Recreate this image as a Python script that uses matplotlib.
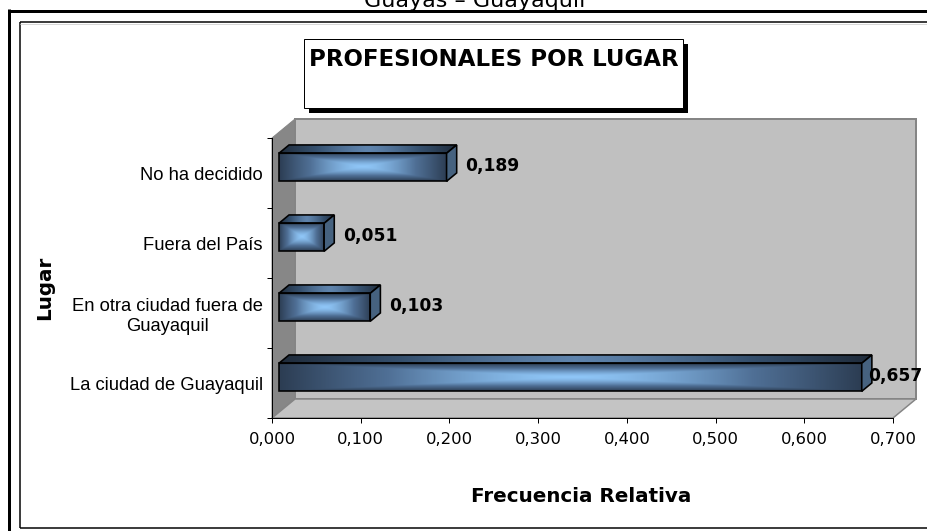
import matplotlib
matplotlib.use('Agg')
import matplotlib.pyplot as plt
import numpy as np
from matplotlib.patches import Polygon, Rectangle
from matplotlib.colors import LinearSegmentedColormap

# ---------------- data ----------------
categories = ["La ciudad de Guayaquil", "En otra ciudad fuera de\nGuayaquil",
              "Fuera del País", "No ha decidido"]
values = [0.657, 0.103, 0.051, 0.189]
xticks = [0.0, 0.1, 0.2, 0.3, 0.4, 0.5, 0.6, 0.7]
chart_title = "PROFESIONALES POR LUGAR"
page_header = "Guayas – Guayaquil"
x_title = "Frecuencia Relativa"
y_title = "Lugar"


def fmt(v):
    return f"{v:.3f}".replace('.', ',')


W, H = 928, 531
fig = plt.figure(figsize=(W / 100, H / 100), dpi=100)
fig.patch.set_facecolor('white')

# background axes in pixel coordinates (page frame, title box, axis titles)
bg = fig.add_axes([0, 0, 1, 1])
bg.set_xlim(0, W)
bg.set_ylim(H, 0)
bg.axis('off')
bg.set_zorder(0)

px = 0.72  # points per pixel
bg.plot([8, W], [10.5, 10.5], color='black', lw=3 * px, solid_capstyle='butt')
bg.plot([9, 9], [9, H], color='black', lw=3 * px, solid_capstyle='butt')
bg.plot([20, W], [22, 22], color='black', lw=1.5 * px, solid_capstyle='butt')
bg.plot([20, 20], [22, 528], color='black', lw=1.5 * px, solid_capstyle='butt')
bg.plot([20, W], [528, 528], color='black', lw=1.5 * px, solid_capstyle='butt')
bg.plot([20, W], [23.5, 23.5], color='#d8d8d8', lw=1 * px, solid_capstyle='butt')

bg.text(475, 7, page_header, ha='center', va='baseline', fontsize=16,
        family='DejaVu Sans', color='black')

# title box with shadow
bg.add_patch(Rectangle((309, 44), 379, 69, facecolor='black', edgecolor='none'))
bg.add_patch(Rectangle((304, 39), 379, 69, facecolor='white', edgecolor='black', lw=1 * px))
bg.text(493.5, 60, chart_title, ha='center', va='center', fontsize=16.5,
        fontweight='bold', family='DejaVu Sans')

bg.text(581, 497, x_title, ha='center', va='center', fontsize=14.3,
        fontweight='bold', family='DejaVu Sans')
bg.text(45, 288, y_title, ha='center', va='center', fontsize=14.3, rotation=90,
        fontweight='bold', family='DejaVu Sans')

# ---------------- main axes ----------------
ax = fig.add_axes([272 / W, 1 - 418 / H, 621 / W, 280 / H])
ax.set_zorder(1)
ax.patch.set_visible(False)
XMAX = xticks[-1]
ax.set_xlim(0, XMAX)
ax.set_ylim(-0.5, len(categories) - 0.5)
DX = 23 / 621 * XMAX
DY = 19 / 280 * len(categories)
Y0, Y1 = -0.5, len(categories) - 0.5

wall_edge = '#858585'
# back wall
ax.add_patch(Polygon([(DX, Y0 + DY), (XMAX + DX, Y0 + DY), (XMAX + DX, Y1 + DY), (DX, Y1 + DY)],
                     closed=True, facecolor='#c0c0c0', edgecolor=wall_edge, lw=2 * px,
                     clip_on=False, zorder=0.5))
# side wall
ax.add_patch(Polygon([(0, Y0), (0, Y1), (DX, Y1 + DY), (DX, Y0 + DY)],
                     closed=True, facecolor='#878787', edgecolor=wall_edge, lw=1 * px,
                     clip_on=False, zorder=0.6))
# floor
ax.add_patch(Polygon([(0, Y0), (XMAX, Y0), (XMAX + DX, Y0 + DY), (DX, Y0 + DY)],
                     closed=True, facecolor='#c4c4c4', edgecolor=wall_edge, lw=1.5 * px,
                     clip_on=False, zorder=0.7))

# gradients
front_cmap = LinearSegmentedColormap.from_list('front', ['#2c3d53', '#4f6f95', '#8fc6f7'])
top_cmap = LinearSegmentedColormap.from_list('top', ['#1f2b3a', '#35506e', '#5f84ad'])
u = np.linspace(0, 1, 300)
v = np.linspace(0, 1, 60)
U, V = np.meshgrid(u, v)
T = np.maximum(np.abs(2 * U - 1), np.abs(2 * V - 1))
front_img = 1 - T ** 1.5
top_img = 1 - np.abs(2 * U - 1) ** 1.3

F0, F1 = 0.3, 0.74
HB = 0.2
edge_lw = 1.6 * px

for i, val in enumerate(values):
    x0f, x1f = F0 * DX, val + F0 * DX
    yb, yt = i - HB + F0 * DY, i + HB + F0 * DY
    # front face
    front = Polygon([(x0f, yb), (x1f, yb), (x1f, yt), (x0f, yt)], closed=True,
                    facecolor='none', edgecolor='black', lw=edge_lw, zorder=4, clip_on=False)
    ax.add_patch(front)
    im = ax.imshow(front_img, cmap=front_cmap, extent=[x0f, x1f, yb, yt], origin='lower',
                   aspect='auto', zorder=3, interpolation='bilinear', vmin=0, vmax=1)
    im.set_clip_path(front)
    # top face
    top_pts = [(x0f, yt), (x1f, yt), (val + F1 * DX, i + HB + F1 * DY), (F1 * DX, i + HB + F1 * DY)]
    top = Polygon(top_pts, closed=True, facecolor='none', edgecolor='black', lw=edge_lw,
                  zorder=4, clip_on=False)
    ax.add_patch(top)
    im2 = ax.imshow(top_img, cmap=top_cmap,
                    extent=[x0f, val + F1 * DX, yt, i + HB + F1 * DY], origin='lower',
                    aspect='auto', zorder=3, interpolation='bilinear', vmin=0, vmax=1)
    im2.set_clip_path(top)
    # right end face
    ax.add_patch(Polygon([(x1f, yb), (x1f, yt), (val + F1 * DX, i + HB + F1 * DY),
                          (val + F1 * DX, i - HB + F1 * DY)], closed=True,
                         facecolor='#46627f', edgecolor='black', lw=edge_lw, zorder=4,
                         clip_on=False))
    # value label
    lx = min(val + F1 * DX + 0.01, 0.6715)
    ax.text(lx, i + F0 * DY + 0.02, fmt(val), ha='left', va='center', fontsize=12.3,
            fontweight='bold', family='DejaVu Sans', zorder=6, clip_on=False)

ax.set_xlim(0, XMAX)
ax.set_ylim(Y0, Y1)

for s in ['top', 'right']:
    ax.spines[s].set_visible(False)
for s in ['left', 'bottom']:
    ax.spines[s].set_color('black')
    ax.spines[s].set_linewidth(1 * px)
    ax.spines[s].set_zorder(2)

ax.set_xticks(xticks)
ax.set_xticklabels([fmt(t) for t in xticks], fontsize=11.8, family='DejaVu Sans')
ax.tick_params(axis='x', direction='out', length=5 * px, width=1 * px, pad=6.5)

ax.set_yticks(np.arange(Y0, Y1 + 0.01, 1.0))
ax.set_yticklabels([])
ax.tick_params(axis='y', which='major', direction='out', length=5 * px, width=1 * px)
ax.set_yticks(range(len(categories)), minor=True)
ax.set_yticklabels(categories, minor=True, fontsize=13.2, family='Liberation Sans')
ax.tick_params(axis='y', which='minor', length=0, pad=6.5)
for lbl in ax.get_yticklabels(minor=True):
    lbl.set_multialignment('center')

fig.savefig('out.png', dpi=100, facecolor='white')
